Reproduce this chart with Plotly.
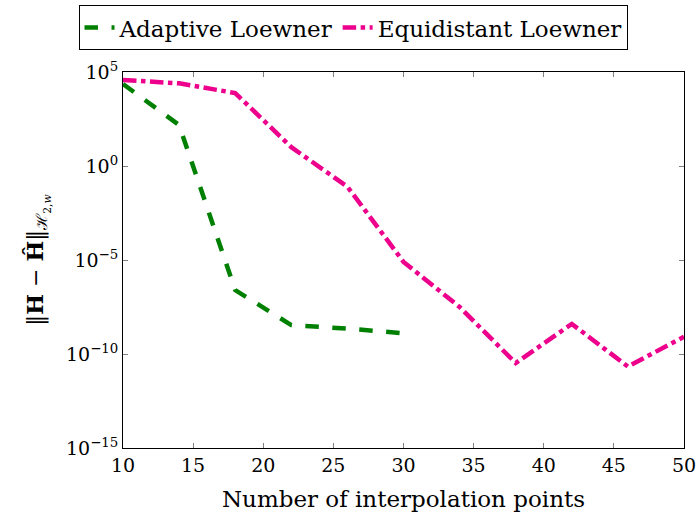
import plotly.graph_objects as go

adaptive_n = [10, 14, 18, 22, 26, 30]
adaptive_err = [10**4.36, 10**2.18, 10**-6.6, 10**-8.46, 10**-8.65, 10**-8.9]

equi_n = [10, 14, 18, 22, 26, 30, 34, 38, 42, 46, 50]
equi_err = [10**4.57, 10**4.4, 10**3.88, 10**1.0, 10**-1.1, 10**-5.1,
            10**-7.5, 10**-10.48, 10**-8.4, 10**-10.67, 10**-9.08]

x_ticks = [10, 15, 20, 25, 30, 35, 40, 45, 50]
y_ticks = [1e-15, 1e-10, 1e-5, 1, 1e5]
y_ticklabels = ["10<sup>−15</sup>", "10<sup>−10</sup>", "10<sup>−5</sup>", "10<sup>0</sup>", "10<sup>5</sup>"]

FONT = "DejaVu Serif"

fig = go.Figure()
fig.add_trace(go.Scatter(x=adaptive_n, y=adaptive_err, mode="lines", name="Adaptive Loewner",
                         line=dict(color="#008000", width=4.5, dash="dash")))
fig.add_trace(go.Scatter(x=equi_n, y=equi_err, mode="lines", name="Equidistant Loewner",
                         line=dict(color="#EC008C", width=4.5, dash="dashdot")))

fig.update_layout(
    width=698, height=523,
    margin=dict(l=123, r=14, t=72, b=75, autoexpand=False),
    paper_bgcolor="white", plot_bgcolor="white",
    font=dict(family=FONT, size=19, color="black"),
    legend=dict(orientation="h", x=0.41, xanchor="center", y=1.178, yanchor="top",
                bordercolor="black", borderwidth=1, font=dict(family=FONT, size=23),
                itemwidth=30, tracegroupgap=0),
    showlegend=True,
)
fig.update_xaxes(range=[10, 50], tickvals=x_ticks, ticks="inside", ticklen=5,
                 tickcolor="gray", showline=True, linecolor="black", linewidth=1,
                 mirror="allticks", showgrid=False, zeroline=False, automargin=False,
                 tickfont=dict(family=FONT, size=19),
                 title=dict(text="Number of interpolation points", standoff=16,
                            font=dict(family=FONT, size=23)))
fig.update_yaxes(type="log", range=[-15, 5], tickvals=y_ticks, ticktext=y_ticklabels,
                 ticks="inside", ticklen=5, tickcolor="gray", showline=True,
                 linecolor="black", linewidth=1, mirror="allticks", showgrid=False,
                 zeroline=False, automargin=False,
                 tickfont=dict(family=FONT, size=19),
                 title=dict(text="‖<b>H</b> − <b>Ĥ</b>‖<sub>ℋ<sub>2,<i>w</i></sub></sub>", standoff=16,
                            font=dict(family=FONT, size=22)))

fig.write_html("out.html")
